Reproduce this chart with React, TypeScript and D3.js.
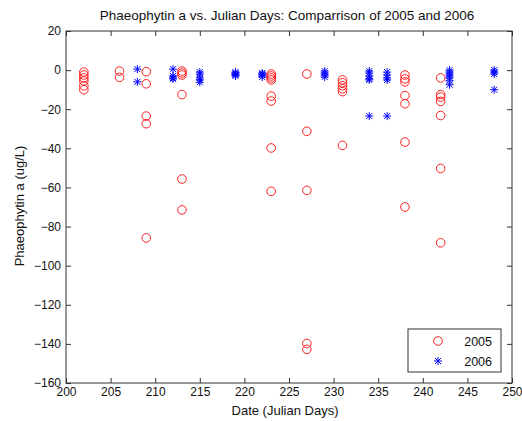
import React, {useEffect, useRef} from 'react'
import * as d3 from 'd3';

// julian days sampled each year, with the phaeophytin readings of that day
const days2005 = [202, 206, 209, 213, 223, 227, 231, 238, 242];
const phaeo2005 = [
    [-1, -2.5, -4, -5.5, -8, -10],
    [-0.5, -3.7],
    [-0.8, -7, -23.5, -27.4, -85.8],
    [-0.5, -1.5, -2.5, -12.5, -55.7, -71.5],
    [-2, -3, -4, -5, -13.3, -15.8, -39.8, -62],
    [-2, -31.3, -61.5, -139.8, -142.8],
    [-5, -6.5, -8, -9.5, -11, -38.5],
    [-2.5, -4.5, -6, -13, -17.2, -36.8, -70],
    [-4, -12.5, -13.8, -16, -23.2, -50.3, -88.3],
];

const days2006 = [208, 212, 215, 219, 222, 229, 234, 236, 243, 248];
const phaeo2006 = [
    [0.5, -6],
    [0.5, -3, -4, -4.5],
    [-1, -2, -4, -5, -6.2],
    [-1, -1.5, -2, -2.5, -3],
    [-1.5, -2, -2.5, -3.5],
    [-0.5, -1.5, -2.5, -3.5],
    [-0.5, -1.5, -3, -4.5, -5, -23.5],
    [-1, -2.5, -4, -5, -23.5],
    [0, -1, -2, -3, -4, -5.5, -7.5],
    [0, -1, -2, -10],
];

const xTicks = [200, 205, 210, 215, 220, 225, 230, 235, 240, 245, 250];
const yTicks = [20, 0, -20, -40, -60, -80, -100, -120, -140, -160];
const legendLabels = ['2005', '2006'];

const W = 522, H = 421;
const margin = {top: 31, right: 10, bottom: 38, left: 66};
const width = W - margin.left - margin.right;
const height = H - margin.top - margin.bottom;
const font = 'Liberation Sans, Arial, sans-serif';

function flatten(days: number[], vals: number[][]) {
    const out: {day: number, v: number}[] = [];
    days.forEach((d, i) => vals[i].forEach(v => out.push({day: d, v})));
    return out;
}

export default function App(){
    const svgRef = useRef(null);

    useEffect(() => {
        const svg = d3.select(svgRef.current);
        svg.selectAll('*').remove();

        const x = d3.scaleLinear().domain([200, 250]).range([0, width]);
        const y = d3.scaleLinear().domain([-160, 20]).range([height, 0]);

        const g = svg.append('g').attr('transform', `translate(${margin.left},${margin.top})`);

        // box + ticks on all four sides, matlab style (ticks point inward)
        const axisColor = '#333';
        const styleAxis = (sel: any) => {
            sel.select('.domain').remove();
            sel.selectAll('line').attr('stroke', axisColor);
            sel.selectAll('text').attr('font-family', font).attr('font-size', 12).attr('fill', '#111');
        };
        g.append('g').attr('transform', `translate(0,${height})`)
            .call(d3.axisBottom(x).tickValues(xTicks).tickSizeInner(-5).tickSizeOuter(0).tickPadding(4))
            .call(styleAxis);
        g.append('g')
            .call(d3.axisTop(x).tickValues(xTicks).tickSizeInner(-5).tickSizeOuter(0).tickFormat(() => ''))
            .call(styleAxis);
        g.append('g')
            .call(d3.axisLeft(y).tickValues(yTicks).tickSizeInner(-5).tickSizeOuter(0).tickPadding(5))
            .call(styleAxis);
        g.append('g').attr('transform', `translate(${width},0)`)
            .call(d3.axisRight(y).tickValues(yTicks).tickSizeInner(-5).tickSizeOuter(0).tickFormat(() => ''))
            .call(styleAxis);
        g.append('rect')
            .attr('width', width).attr('height', height)
            .attr('fill', 'none').attr('stroke', axisColor).attr('stroke-width', 1);

        // 2005 circles
        g.append('g').selectAll('circle')
            .data(flatten(days2005, phaeo2005))
            .join('circle')
            .attr('cx', d => x(d.day))
            .attr('cy', d => y(d.v))
            .attr('r', 4.3)
            .attr('fill', 'none')
            .attr('stroke', '#ff2020')
            .attr('stroke-width', 1);

        // 2006 asterisks
        const star = 'M-4,0H4M0,-4V4M-3,-3L3,3M-3,3L3,-3';
        g.append('g').selectAll('path')
            .data(flatten(days2006, phaeo2006))
            .join('path')
            .attr('transform', d => `translate(${x(d.day)},${y(d.v)})`)
            .attr('d', star)
            .attr('fill', 'none')
            .attr('stroke', '#0000ff')
            .attr('stroke-width', 1);

        // legend
        const lg = svg.append('g').attr('transform', 'translate(408,329)');
        lg.append('rect').attr('width', 93).attr('height', 43)
            .attr('fill', 'white').attr('stroke', axisColor);
        lg.append('circle').attr('cx', 30).attr('cy', 12).attr('r', 4.3)
            .attr('fill', 'none').attr('stroke', '#ff2020');
        lg.append('path').attr('transform', 'translate(30,32)').attr('d', star)
            .attr('fill', 'none').attr('stroke', '#0000ff');
        lg.selectAll('text.lbl')
            .data(legendLabels)
            .join('text')
            .attr('class', 'lbl')
            .attr('x', 84).attr('y', (d, i) => 17 + i * 20)
            .attr('text-anchor', 'end')
            .attr('font-family', font).attr('font-size', 12.5).attr('fill', '#111')
            .text(d => d);

        // titles
        svg.append('text')
            .attr('x', margin.left + width / 2 - 2).attr('y', 20)
            .attr('text-anchor', 'middle')
            .attr('font-family', font).attr('font-size', 13.5).attr('fill', '#111')
            .text('Phaeophytin a vs. Julian Days: Comparrison of 2005 and 2006');
        svg.append('text')
            .attr('x', margin.left + width / 2 - 4).attr('y', 415)
            .attr('text-anchor', 'middle')
            .attr('font-family', font).attr('font-size', 13).attr('fill', '#111')
            .text('Date (Julian Days)');
        svg.append('text')
            .attr('transform', `translate(24,${margin.top + height / 2 - 1}) rotate(-90)`)
            .attr('text-anchor', 'middle')
            .attr('font-family', font).attr('font-size', 13).attr('fill', '#111')
            .text('Phaeophytin a (ug/L)');
    });

    return (
        <svg
            ref={svgRef}
            width={W}
            height={H}
            style={{position: 'absolute', left: 0, top: 0, background: 'white'}}
        >
        </svg>
    );
}
